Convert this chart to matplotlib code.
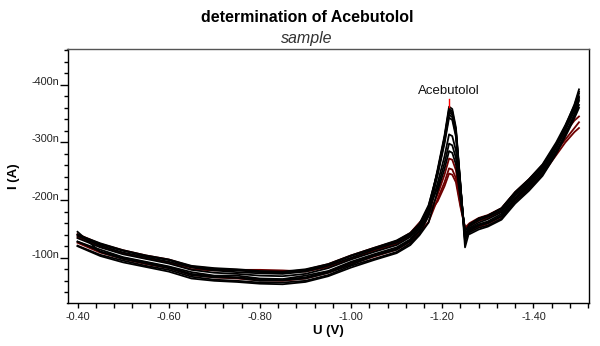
import matplotlib
matplotlib.use('Agg')
import matplotlib.pyplot as plt
from matplotlib.ticker import MultipleLocator, FuncFormatter

plt.rcParams['font.family'] = ['Liberation Sans', 'DejaVu Sans']

# potential grid (V)
U = [-0.40, -0.45, -0.50, -0.55, -0.60, -0.65, -0.70, -0.75, -0.80, -0.85, -0.90, -0.95,
     -1.00, -1.05, -1.10, -1.13, -1.15, -1.17, -1.19, -1.205, -1.215, -1.222, -1.23, -1.24,
     -1.25, -1.26, -1.28, -1.30, -1.33, -1.36, -1.39, -1.42, -1.45, -1.47, -1.49, -1.50]

# current (nA), one list per scan
c1 = [-145, -110, -98, -90, -82, -70, -66, -65, -60, -61, -64, -74, -88, -103, -114, -129,
      -146, -179, -254, -312, -362, -358, -326, -228, -118,
      -147, -156, -160, -172, -203, -226, -254, -294, -328, -366, -392]
c2 = [-138, -121, -109, -101, -93, -83, -78, -75, -73, -72, -76, -86, -100, -114, -126, -139,
      -156, -189, -251, -309, -358, -354, -322, -226, -128,
      -155, -165, -171, -182, -211, -233, -259, -297, -327, -360, -385]
c3 = [-128, -114, -101, -93, -85, -75, -69, -69, -64, -63, -69, -77, -93, -106, -118, -132,
      -152, -184, -250, -307, -355, -351, -320, -225, -130,
      -150, -158, -163, -176, -204, -227, -252, -290, -321, -355, -380]
c4 = [-140, -125, -113, -104, -97, -86, -82, -80, -77, -76, -80, -89, -104, -117, -130, -143,
      -159, -191, -248, -305, -352, -348, -318, -224, -132,
      -158, -168, -173, -186, -214, -236, -262, -300, -330, -364, -388]
c5 = [-121, -105, -95, -86, -79, -67, -62, -60, -57, -57, -60, -70, -86, -98, -110, -125,
      -141, -172, -246, -302, -348, -344, -314, -222, -135,
      -144, -152, -156, -168, -197, -219, -245, -283, -314, -349, -372]
c6 = [-134, -118, -106, -98, -90, -79, -74, -72, -69, -68, -72, -82, -97, -110, -122, -136,
      -155, -185, -244, -298, -343, -339, -310, -220, -138,
      -152, -161, -167, -179, -208, -230, -256, -294, -324, -356, -378]
c7 = [-128, -111, -100, -92, -84, -72, -68, -66, -63, -62, -66, -76, -91, -104, -116, -130,
      -148, -174, -230, -276, -314, -311, -286, -212, -143,
      -148, -156, -161, -173, -201, -223, -249, -285, -314, -345, -365]
c8 = [-140, -123, -112, -103, -96, -84, -80, -78, -75, -74, -78, -88, -103, -116, -128, -141,
      -158, -183, -222, -264, -298, -295, -273, -206, -146,
      -158, -168, -173, -185, -213, -235, -260, -297, -327, -357, -375]
c9 = [-120, -103, -92, -84, -76, -64, -60, -58, -55, -54, -58, -68, -83, -96, -108, -122,
      -139, -161, -216, -254, -285, -282, -262, -202, -148,
      -141, -149, -154, -166, -194, -216, -242, -280, -310, -342, -360]
c10 = [-136, -119, -108, -99, -92, -80, -78, -79, -79, -78, -76, -84, -99, -112, -124, -138,
       -153, -174, -210, -244, -272, -270, -252, -198, -150,
       -155, -164, -169, -181, -208, -228, -252, -285, -305, -325, -335]
c11 = [-126, -109, -98, -89, -82, -70, -66, -64, -61, -60, -64, -74, -89, -102, -114, -128,
       -144, -162, -202, -231, -255, -253, -238, -192, -152,
       -146, -154, -159, -171, -200, -221, -245, -278, -300, -318, -325]
c12 = [-141, -124, -113, -104, -97, -85, -81, -79, -76, -75, -79, -89, -104, -117, -129, -143,
       -161, -176, -198, -224, -246, -244, -231, -188, -152,
       -160, -169, -174, -186, -214, -236, -261, -293, -318, -338, -345]

black_scans = [c1, c2, c3, c4, c5, c6, c7, c8, c9]
red_scans = [c10, c11, c12]

fig = plt.figure(figsize=(6, 3.46), dpi=100)
ax = fig.add_axes([0.1125, 0.1251, 0.8692, 0.7332])

for s in red_scans:
    ax.plot(U, s, color='#6e0000', lw=1.3)
for s in black_scans:
    ax.plot(U, s, color='black', lw=1.3)

# peak marker
ax.plot([-1.215, -1.215], [-362, -376], color='red', lw=1)
ax.text(-1.215, -378, 'Acebutolol', ha='center', va='bottom', fontsize=9.5, color='#111111')

ax.set_xlim(-0.378, -1.522)
ax.set_ylim(-22, -462)

ax.xaxis.set_major_locator(MultipleLocator(0.2))
ax.xaxis.set_minor_locator(MultipleLocator(0.04))
ax.yaxis.set_major_locator(MultipleLocator(100))
ax.yaxis.set_minor_locator(MultipleLocator(20))
ax.xaxis.set_major_formatter(FuncFormatter(lambda v, p: '%.2f' % v))
ax.yaxis.set_major_formatter(FuncFormatter(lambda v, p: '%dn' % v))

ax.tick_params(axis='x', which='both', length=3.5, width=1, direction='out',
               labelsize=7.8, labelcolor='#222222', pad=3)
ax.tick_params(axis='y', which='major', length=6, width=1, direction='out',
               labelsize=7.8, labelcolor='#222222', pad=0)
ax.tick_params(axis='y', which='minor', length=3, width=1, direction='out')
for lab in ax.get_yticklabels():
    lab.set_verticalalignment('baseline')

for sp in ax.spines.values():
    sp.set_linewidth(1)
ax.spines['top'].set_color('#555555')

fig.text(0.512, 0.948, 'determination of Acebutolol', ha='center', va='center',
         fontsize=11.5, fontweight='bold')
fig.text(0.512, 0.888, 'sample', ha='center', va='center', fontsize=11.5,
         style='italic', color='#333333')
fig.text(0.547, 0.042, 'U (V)', ha='center', va='center', fontsize=9.5, fontweight='bold')
fig.text(0.023, 0.491, 'I (A)', ha='center', va='center', fontsize=9.5,
         fontweight='bold', rotation=90)

fig.savefig('out.png', dpi=100)
